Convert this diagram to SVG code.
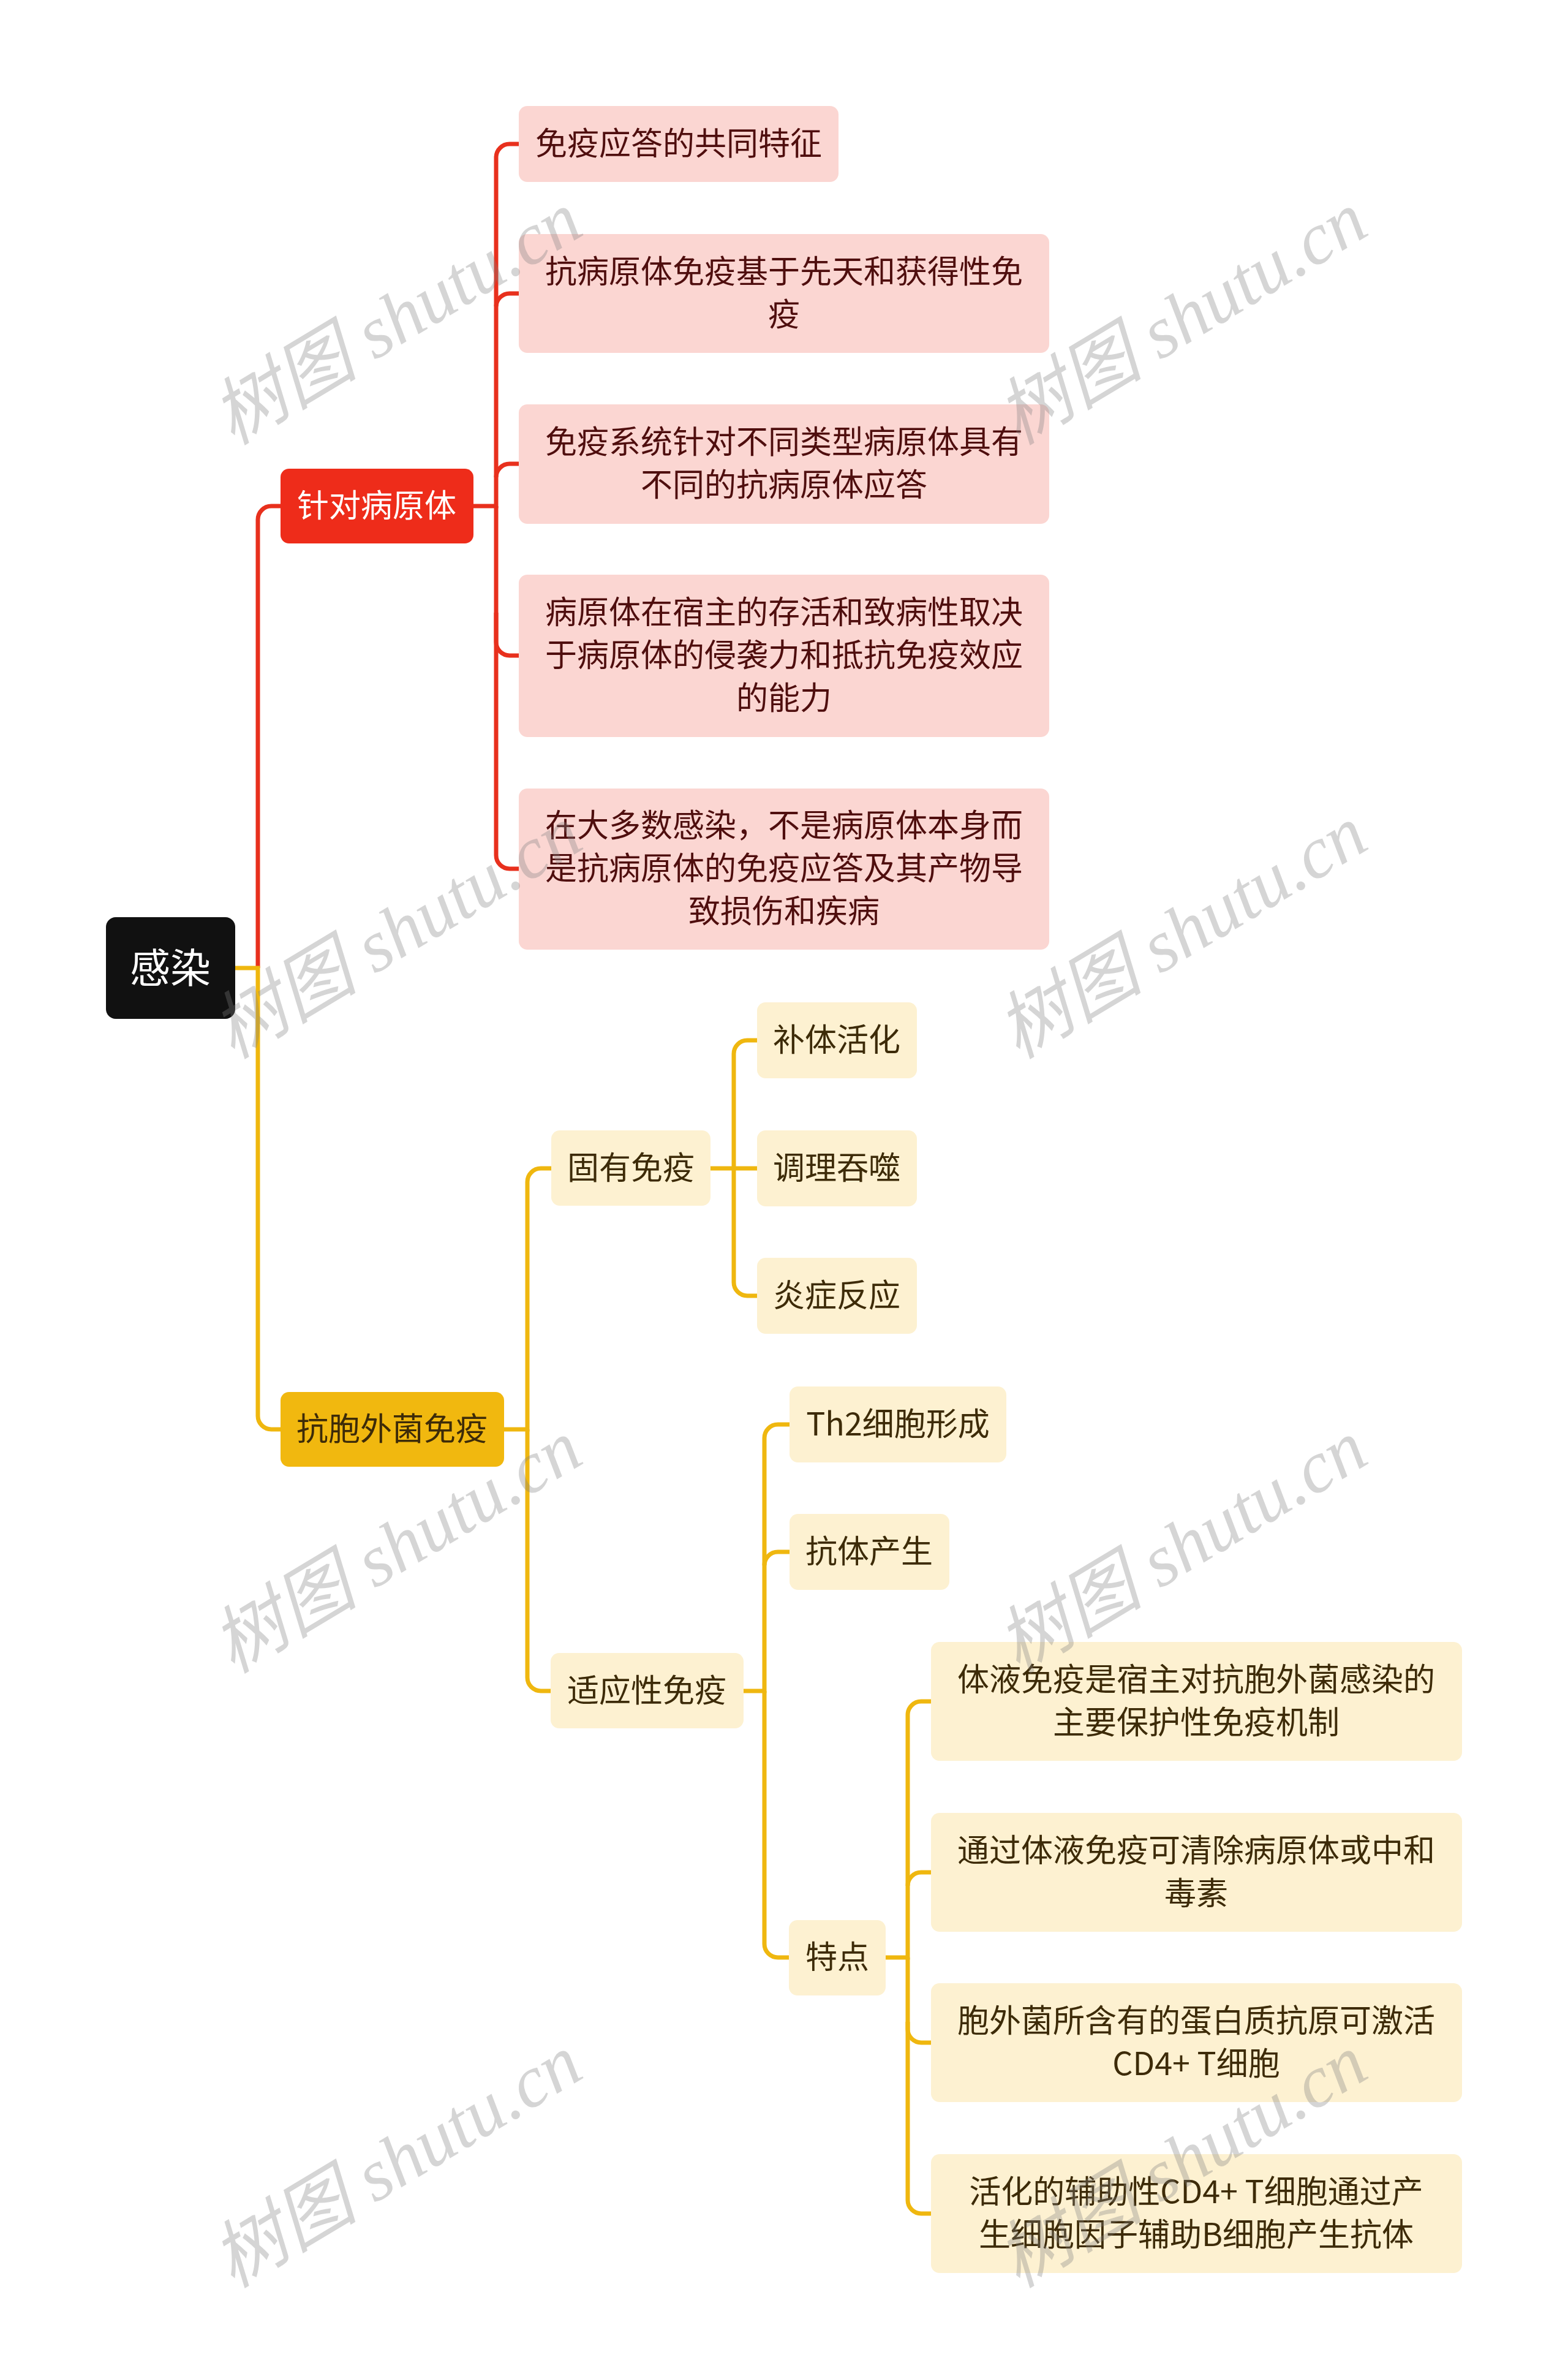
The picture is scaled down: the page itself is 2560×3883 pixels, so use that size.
<svg xmlns="http://www.w3.org/2000/svg" width="2560" height="3883" viewBox="0 0 2560 3883">
<style>
text{font-family:"Noto Sans CJK SC","Noto Sans",sans-serif;text-anchor:middle;}
.t{font-size:52px;}
.tr{fill:#4f0e0e;}
.ty{fill:#3d2b08;}
.tw{fill:#ffffff;}
.root{fill:#111111;}
.l1r{fill:#ee2c1a;}
.l1y{fill:#f1b80f;}
.lr{fill:#fbd6d2;}
.ly{fill:#fdf1d1;}
.cr{fill:none;stroke:#e8301d;stroke-width:7;}
.cy{fill:none;stroke:#efb70f;stroke-width:7;}
.wm{font-family:"Liberation Serif","Noto Sans CJK SC",serif;font-size:120px;fill:#808080;fill-opacity:0.33;font-style:italic;}
</style>
<rect width="2560" height="3883" fill="#ffffff"/>
<g id="connectors">
<path class="cr" d="M421 1580 V848 A22 22 0 0 1 443 826 H458"/>
<path class="cr" d="M773 826 H810 V257 A22 22 0 0 1 832 235 H847"/>
<path class="cr" d="M810 500 A22 22 0 0 1 832 479 H847"/>
<path class="cr" d="M810 779 A22 22 0 0 1 832 757 H847"/>
<path class="cr" d="M810 826 V1048 A22 22 0 0 0 832 1070 H847"/>
<path class="cr" d="M810 1000 V1396 A22 22 0 0 0 832 1418 H847"/>
<path class="cy" d="M384 1580 H421 V2311 A22 22 0 0 0 443 2333 H458"/>
<path class="cy" d="M823 2333 H861 V1929 A22 22 0 0 1 883 1907 H900"/>
<path class="cy" d="M861 2333 V2738 A22 22 0 0 0 883 2760 H899"/>
<path class="cy" d="M1160 1907 H1236"/>
<path class="cy" d="M1198 1907 V1720 A22 22 0 0 1 1220 1698 H1236"/>
<path class="cy" d="M1198 1907 V2093 A22 22 0 0 0 1220 2115 H1236"/>
<path class="cy" d="M1214 2760 H1248 V2347 A22 22 0 0 1 1270 2325 H1289"/>
<path class="cy" d="M1248 2555 A22 22 0 0 1 1270 2533 H1289"/>
<path class="cy" d="M1248 2760 V3173 A22 22 0 0 0 1270 3195 H1288"/>
<path class="cy" d="M1446 3195 H1482 V2799 A22 22 0 0 1 1504 2777 H1520"/>
<path class="cy" d="M1482 3078 A22 22 0 0 1 1504 3056 H1520"/>
<path class="cy" d="M1482 3195 V3312 A22 22 0 0 0 1504 3334 H1520"/>
<path class="cy" d="M1482 3300 V3591 A22 22 0 0 0 1504 3613 H1520"/>
</g>
<g id="n-root"><rect class="root" x="173" y="1497" width="211" height="166" rx="16"/><text class="tw" x="278" y="1604" font-size="66">感染</text></g>
<g id="n-zhendui"><rect class="l1r" x="458" y="765" width="315" height="122" rx="14"/><text class="t tw" x="615" y="844">针对病原体</text></g>
<g id="n-kangbao"><rect class="l1y" x="458" y="2272" width="365" height="122" rx="14"/><text class="t ty" x="640" y="2351">抗胞外菌免疫</text></g>
<g id="n-r1"><rect class="lr" x="847" y="173" width="522" height="124" rx="14"/><text class="t tr" x="1108" y="253">免疫应答的共同特征</text></g>
<g id="n-r2"><rect class="lr" x="847" y="382" width="866" height="194" rx="14"/><text class="t tr" x="1280" y="462">抗病原体免疫基于先天和获得性免</text><text class="t tr" x="1280" y="532">疫</text></g>
<g id="n-r3"><rect class="lr" x="847" y="660" width="866" height="195" rx="14"/><text class="t tr" x="1280" y="740">免疫系统针对不同类型病原体具有</text><text class="t tr" x="1280" y="810">不同的抗病原体应答</text></g>
<g id="n-r4"><rect class="lr" x="847" y="938" width="866" height="265" rx="14"/><text class="t tr" x="1280" y="1018">病原体在宿主的存活和致病性取决</text><text class="t tr" x="1280" y="1088">于病原体的侵袭力和抵抗免疫效应</text><text class="t tr" x="1280" y="1158">的能力</text></g>
<g id="n-r5"><rect class="lr" x="847" y="1287" width="866" height="263" rx="14"/><text class="t tr" x="1280" y="1366">在大多数感染，不是病原体本身而</text><text class="t tr" x="1280" y="1436">是抗病原体的免疫应答及其产物导</text><text class="t tr" x="1280" y="1506">致损伤和疾病</text></g>
<g id="n-guyou"><rect class="ly" x="900" y="1845" width="260" height="123" rx="14"/><text class="t ty" x="1030" y="1925">固有免疫</text></g>
<g id="n-buti"><rect class="ly" x="1236" y="1636" width="261" height="124" rx="14"/><text class="t ty" x="1366" y="1716">补体活化</text></g>
<g id="n-tiaoli"><rect class="ly" x="1236" y="1845" width="261" height="124" rx="14"/><text class="t ty" x="1366" y="1925">调理吞噬</text></g>
<g id="n-yanzheng"><rect class="ly" x="1236" y="2053" width="261" height="124" rx="14"/><text class="t ty" x="1366" y="2133">炎症反应</text></g>
<g id="n-shiying"><rect class="ly" x="899" y="2698" width="315" height="123" rx="14"/><text class="t ty" x="1056" y="2778">适应性免疫</text></g>
<g id="n-th2"><rect class="ly" x="1289" y="2263" width="354" height="124" rx="14"/><text class="t ty" x="1466" y="2343">Th2细胞形成</text></g>
<g id="n-kangti"><rect class="ly" x="1289" y="2471" width="261" height="124" rx="14"/><text class="t ty" x="1419" y="2551">抗体产生</text></g>
<g id="n-tedian"><rect class="ly" x="1288" y="3134" width="158" height="123" rx="14"/><text class="t ty" x="1367" y="3213">特点</text></g>
<g id="n-y1"><rect class="ly" x="1520" y="2680" width="867" height="194" rx="14"/><text class="t ty" x="1953" y="2760">体液免疫是宿主对抗胞外菌感染的</text><text class="t ty" x="1953" y="2830">主要保护性免疫机制</text></g>
<g id="n-y2"><rect class="ly" x="1520" y="2959" width="867" height="194" rx="14"/><text class="t ty" x="1953" y="3039">通过体液免疫可清除病原体或中和</text><text class="t ty" x="1953" y="3109">毒素</text></g>
<g id="n-y3"><rect class="ly" x="1520" y="3237" width="867" height="194" rx="14"/><text class="t ty" x="1953" y="3317">胞外菌所含有的蛋白质抗原可激活</text><text class="t ty" x="1953" y="3387">CD4+ T细胞</text></g>
<g id="n-y4"><rect class="ly" x="1520" y="3516" width="867" height="194" rx="14"/><text class="t ty" x="1953" y="3596">活化的辅助性CD4+ T细胞通过产</text><text class="t ty" x="1953" y="3666">生细胞因子辅助B细胞产生抗体</text></g>
<g id="watermarks">
<text class="wm" transform="translate(648 520) rotate(-31)" y="40">树图 shutu.cn</text>
<text class="wm" transform="translate(1930 520) rotate(-31)" y="40">树图 shutu.cn</text>
<text class="wm" transform="translate(648 1522) rotate(-31)" y="40">树图 shutu.cn</text>
<text class="wm" transform="translate(1930 1522) rotate(-31)" y="40">树图 shutu.cn</text>
<text class="wm" transform="translate(648 2525) rotate(-31)" y="40">树图 shutu.cn</text>
<text class="wm" transform="translate(1930 2525) rotate(-31)" y="40">树图 shutu.cn</text>
<text class="wm" transform="translate(648 3528) rotate(-31)" y="40">树图 shutu.cn</text>
<text class="wm" transform="translate(1930 3528) rotate(-31)" y="40">树图 shutu.cn</text>
</g>
</svg>
